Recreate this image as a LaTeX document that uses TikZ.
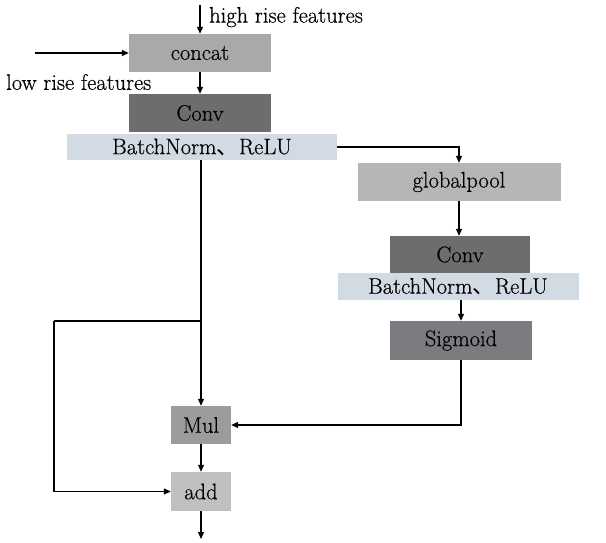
\documentclass[tikz,border=0pt]{standalone}
\usepackage{fontspec}
\newfontfamily\cjk{Noto Sans CJK SC}
\newfontfamily\boxfont{Latin Modern Roman}[FakeBold=0.5]
\usetikzlibrary{arrows.meta}
\definecolor{lightbox}{HTML}{A9A9A9}
\definecolor{poolbox}{HTML}{B6B6B6}
\definecolor{darkbox}{HTML}{6E6C6E}
\definecolor{sigbox}{HTML}{7C7C80}
\definecolor{mulbox}{HTML}{9C9C9C}
\definecolor{addbox}{HTML}{C0C0C0}
\definecolor{normbar}{HTML}{D2DAE4}
\begin{document}
\begin{tikzpicture}[x=1pt,y=-1pt,
  block/.style={rectangle, inner sep=0pt, font=\boxfont\fontsize{22.5}{24}\selectfont},
  lbl/.style={inner sep=0pt, anchor=west, font=\boxfont\fontsize{22.5}{24}\selectfont},
  arr/.style={line width=1.2pt, -{Triangle[length=7pt,width=6pt]}},
  ln/.style={line width=1.2pt}]
\useasboundingbox (0,0) rectangle (606,542);

% main column
\node[block, fill=lightbox, minimum width=142pt, minimum height=38pt] (concat) at (200,53) {concat};
\node[block, fill=darkbox, minimum width=142pt, minimum height=38pt] (conv) at (200,113) {Conv};
\node[block, fill=normbar, minimum width=270pt, minimum height=26pt] (bn) at (202,147) {BatchNorm{\cjk 、}ReLU};
\node[block, fill=mulbox, minimum width=60pt, minimum height=38pt] (mul) at (201,425) {Mul};
\node[block, fill=addbox, minimum width=60pt, minimum height=39pt] (add) at (201,491.5) {add};

% attention branch
\node[block, fill=poolbox, minimum width=203pt, minimum height=38pt] (gp) at (459,182) {globalpool};
\node[block, fill=darkbox, minimum width=140pt, minimum height=37pt] (conv2) at (460,254.5) {Conv};
\node[block, fill=normbar, minimum width=241pt, minimum height=27pt] (bn2) at (458,286.5) {BatchNorm{\cjk 、}ReLU};
\node[block, fill=sigbox, minimum width=142pt, minimum height=39pt] (sig) at (461,340.5) {Sigmoid};

% inputs
\coordinate (hin) at (200,5);
\coordinate (lin) at (35,53);
\node[lbl] (hlab) at (209,17) {high rise features};
\node[lbl] (llab) at (6,82) {low rise features};
\draw[arr] (hin) -- (concat.north);
\draw[arr] (lin) -- (concat.west);

% main flow
\draw[arr] (concat) -- (conv);
\draw[arr] (bn.east) -| (gp.north);
\draw[arr] (gp) -- (gp.south |- conv2.north);
\draw[arr] (bn2.south -| sig.north) -- (sig.north);
\draw[arr] (sig.south) |- (mul.east);
\draw[arr] (bn.south -| mul.north) -- (mul.north);

% residual path
\coordinate (br) at (201,321);
\coordinate (lft) at (54,321);
\draw[ln] (br) -- (lft);
\draw[arr] (lft) |- (add.west);
\draw[arr] (mul) -- (add);
\coordinate (out) at (201,539);
\draw[arr] (add.south) -- (out);
\end{tikzpicture}
\end{document}
